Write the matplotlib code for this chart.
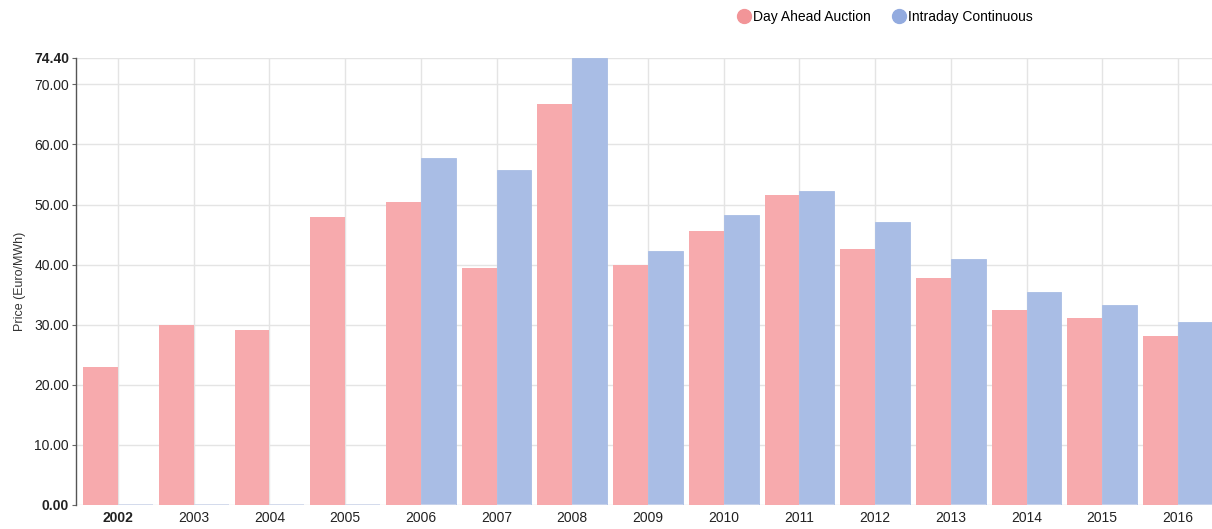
import numpy as np
import matplotlib.pyplot as plt

plt.rcParams['font.family'] = ['Liberation Sans', 'DejaVu Sans']

years = ['2002', '2003', '2004', '2005', '2006', '2007', '2008', '2009',
         '2010', '2011', '2012', '2013', '2014', '2015', '2016']
day_ahead = [22.9, 30.0, 29.2, 47.9, 50.4, 39.4, 66.8, 39.9,
             45.6, 51.6, 42.6, 37.8, 32.5, 31.1, 28.2]
intraday = [0.0, 0.0, 0.0, 0.0, 57.8, 55.7, 74.4, 42.2,
            48.2, 52.3, 47.1, 40.9, 35.4, 33.3, 30.45]
y_ticks = [0, 10, 20, 30, 40, 50, 60, 70, 74.4]

pink = '#f7aaad'
blue = '#a9bde5'

fig = plt.figure(figsize=(12.12, 5.29), dpi=100)
ax = fig.add_axes([0.0627, 0.0454, 0.9373, 0.845])

x = np.arange(len(years))
w = 0.46
ax.bar(x - w / 2, day_ahead, w, color=pink, linewidth=0, zorder=2)
ax.bar(x + w / 2, intraday, w, color=blue, edgecolor=blue, linewidth=0.6, zorder=2)
# faint baseline where the intraday value is zero
ax.hlines([0] * len(x), x, x + w, colors='#cdd6ea', linewidth=1.2, zorder=3)

ax.set_xlim(-0.555, 14.45)
ax.set_ylim(0, 74.4)

ax.set_yticks(y_ticks)
ax.set_yticklabels(['%.2f' % v for v in y_ticks])
ax.set_xticks(x)
ax.set_xticklabels(years)
ax.tick_params(axis='both', labelsize=10, colors='#222222', length=0, pad=4)
ax.tick_params(axis='y', length=3, color='#666666', pad=2)
for lbl in (ax.get_yticklabels()[0], ax.get_yticklabels()[-1], ax.get_xticklabels()[0]):
    lbl.set_fontweight('bold')

ax.grid(True, color='#e4e4e4', linewidth=1, zorder=0)
ax.set_axisbelow(True)
for s in ['top', 'right', 'bottom']:
    ax.spines[s].set_visible(False)
ax.spines['left'].set_color('#555555')
ax.spines['left'].set_linewidth(1)

ax.set_ylabel('Price (Euro/MWh)', fontsize=9, color='#333333', labelpad=6)

h1 = plt.Line2D([], [], marker='o', linestyle='', markersize=10,
                markerfacecolor='#f29598', markeredgecolor='#f29598')
h2 = plt.Line2D([], [], marker='o', linestyle='', markersize=10,
                markerfacecolor='#93abdf', markeredgecolor='#93abdf')
fig.legend([h1, h2], ['Day Ahead Auction', 'Intraday Continuous'],
           loc='center', bbox_to_anchor=(0.73, 0.968), ncol=2, frameon=False,
           fontsize=10, handletextpad=0.15, columnspacing=1.5, handlelength=1.0)

plt.savefig('out.png', dpi=100)
